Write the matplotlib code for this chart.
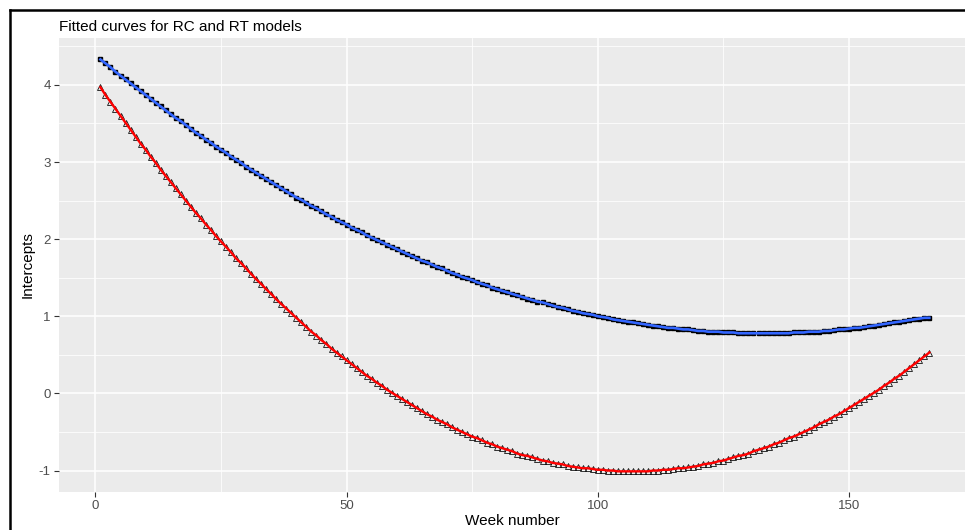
import numpy as np
import matplotlib.pyplot as plt
from matplotlib.lines import Line2D

plt.rcParams['font.family'] = ['Liberation Sans', 'DejaVu Sans']
plt.rcParams['axes.unicode_minus'] = False

# Week index 1..166
weeks = np.arange(1, 167)

# RC model intercepts
rc_intercepts = [
    4.33, 4.28, 4.23, 4.17, 4.12, 4.07, 4.02, 3.97, 3.92, 3.87, 3.82, 3.77,
    3.72, 3.67, 3.62, 3.57, 3.53, 3.48, 3.43, 3.38, 3.34, 3.29, 3.25, 3.20,
    3.16, 3.12, 3.07, 3.03, 2.99, 2.94, 2.90, 2.86, 2.82,
    2.78, 2.74, 2.70, 2.66, 2.62, 2.58, 2.54, 2.51, 2.47, 2.43, 2.40, 2.36,
    2.32, 2.29, 2.25, 2.22, 2.19, 2.15, 2.12, 2.09, 2.05, 2.02, 1.99, 1.96,
    1.93, 1.90, 1.87, 1.84, 1.81, 1.78, 1.75, 1.72, 1.70,
    1.67, 1.64, 1.62, 1.59, 1.56, 1.54, 1.51, 1.49, 1.47, 1.44, 1.42, 1.40,
    1.37, 1.35, 1.33, 1.31, 1.29, 1.27, 1.25, 1.23, 1.21, 1.19, 1.18, 1.16,
    1.14, 1.12, 1.11, 1.09, 1.07, 1.06, 1.04, 1.03, 1.02,
    1.00, 0.99, 0.98, 0.96, 0.95, 0.94, 0.93, 0.92, 0.91, 0.90, 0.89, 0.88,
    0.87, 0.86, 0.85, 0.85, 0.84, 0.83, 0.83, 0.82, 0.81, 0.81, 0.80, 0.80,
    0.80, 0.79, 0.79, 0.79, 0.78, 0.78, 0.78, 0.78, 0.78, 0.78,
    0.78, 0.78, 0.78, 0.78, 0.78, 0.79, 0.79, 0.79, 0.80, 0.80, 0.80, 0.81,
    0.81, 0.82, 0.83, 0.83, 0.84, 0.85, 0.85, 0.86, 0.87, 0.88, 0.89, 0.90,
    0.91, 0.92, 0.93, 0.94, 0.95, 0.96, 0.97, 0.98, 0.98,
]

# RT model intercepts
rt_intercepts = [
    3.97, 3.87, 3.78, 3.69, 3.60, 3.51, 3.42, 3.33, 3.24, 3.16, 3.07, 2.99,
    2.90, 2.82, 2.74, 2.66, 2.58, 2.50, 2.42, 2.34, 2.27, 2.19, 2.12, 2.04,
    1.97, 1.90, 1.83, 1.75, 1.69, 1.62, 1.55, 1.48, 1.42,
    1.35, 1.29, 1.22, 1.16, 1.10, 1.04, 0.98, 0.92, 0.86, 0.80, 0.75, 0.69,
    0.64, 0.58, 0.53, 0.48, 0.43, 0.38, 0.33, 0.28, 0.23, 0.19, 0.14, 0.10,
    0.05, 0.01, -0.03, -0.07, -0.11, -0.15, -0.19, -0.23, -0.27,
    -0.30, -0.34, -0.37, -0.40, -0.44, -0.47, -0.50, -0.53, -0.56, -0.58,
    -0.61, -0.64, -0.66, -0.69, -0.71, -0.73, -0.75, -0.78, -0.80, -0.81,
    -0.83, -0.85, -0.87, -0.88, -0.90, -0.91, -0.92, -0.94, -0.95, -0.96,
    -0.97, -0.97, -0.98, -0.99, -0.99, -1.00, -1.00, -1.01, -1.01, -1.01,
    -1.01,
    -1.01, -1.01, -1.01, -1.00, -1.00, -0.99, -0.99, -0.98, -0.97, -0.97,
    -0.96, -0.95, -0.94, -0.92, -0.91, -0.90, -0.88, -0.87, -0.85, -0.83,
    -0.81, -0.80, -0.78, -0.75, -0.73, -0.71, -0.69, -0.66, -0.64, -0.61,
    -0.58, -0.56, -0.53, -0.50, -0.47, -0.44, -0.40, -0.37, -0.34, -0.30,
    -0.27, -0.23, -0.19, -0.15, -0.11, -0.07, -0.03, 0.01, 0.05, 0.10,
    0.14, 0.19, 0.23, 0.28, 0.33, 0.38, 0.43, 0.48, 0.53,
]

x_ticks = [0, 50, 100, 150]
y_ticks = [-1, 0, 1, 2, 3, 4]

fig = plt.figure(figsize=(9.65, 5.3), dpi=100)
ax = fig.add_axes([0.0611, 0.0717, 0.9389, 0.8566])
ax.set_facecolor("#EBEBEB")

# Points
ax.plot(weeks, rc_intercepts, linestyle="none", marker="s", ms=3.2,
        color="black", zorder=3)
ax.plot(weeks, rt_intercepts, linestyle="none", marker="^", ms=5.0,
        mfc="none", mec="black", mew=0.55, zorder=3)

# Fitted curves
ax.plot(weeks, rc_intercepts, color="#3366FF", lw=1.9, zorder=4)
ax.plot(weeks, rt_intercepts, color="red", lw=1.7, zorder=4)

ax.set_xlim(-7.25, 173.1)
ax.set_ylim(-1.278, 4.608)
ax.set_xticks(x_ticks)
ax.set_yticks(y_ticks)
ax.set_xticks([25, 75, 125], minor=True)
ax.set_yticks(np.arange(-0.5, 4.6, 1.0), minor=True)
ax.grid(which="major", color="white", lw=1.1)
ax.grid(which="minor", color="white", lw=0.55)
ax.set_axisbelow(True)
for s in ax.spines.values():
    s.set_visible(False)
ax.tick_params(which="major", length=3.5, width=0.8, color="#333333",
               labelcolor="#4D4D4D", labelsize=9.5, pad=2.5)
ax.tick_params(which="minor", length=0)

ax.set_xlabel("Week number", fontsize=11, labelpad=1)
ax.set_ylabel("Intercepts", fontsize=11)
ax.yaxis.set_label_coords(-0.027, 0.5)
ax.set_title("Fitted curves for RC and RT models", fontsize=11, loc="left",
             pad=5)

# Screenshot frame (left and top edges visible)
fig.add_artist(Line2D([10 / 965, 10 / 965], [0, 520 / 530], color="black",
                      lw=1.8, transform=fig.transFigure))
fig.add_artist(Line2D([10 / 965, 1], [520 / 530, 520 / 530], color="black",
                      lw=1.8, transform=fig.transFigure))

fig.savefig("out.png", dpi=100)
